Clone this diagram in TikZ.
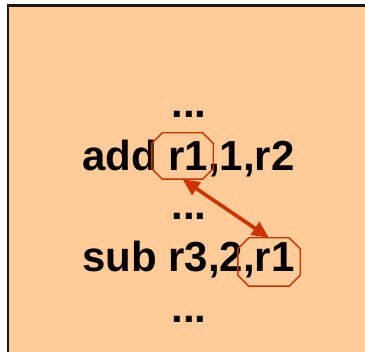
\documentclass[tikz,border=0pt]{standalone}
\usepackage{fontspec}
\setmainfont{Liberation Sans}
\usetikzlibrary{arrows.meta,calc}
\definecolor{peach}{HTML}{FFCC99}
\definecolor{rust}{HTML}{CC3300}
\tikzset{
  code/.style={anchor=base west,inner sep=0pt,font=\fontsize{42}{50}\selectfont\bfseries},
  dots/.style={anchor=base,inner sep=0pt,font=\fontsize{42}{50}\selectfont\bfseries},
  octbox/.style={rectangle,inner sep=0pt,minimum width=61pt,minimum height=46pt},
  octline/.style={draw=rust,line width=1.4pt,line join=miter},
  link/.style={rust,line width=3.6pt,{Triangle[length=17pt,width=15pt]}-{Triangle[length=17pt,width=15pt]}}
}
\newcommand{\octdraw}[2]{%
  \draw[octline] ($(#1.north west)+(#2,0)$) -- ($(#1.north east)+(-#2,0)$)
    -- ($(#1.north east)+(0,-#2)$) -- ($(#1.south east)+(0,#2)$)
    -- ($(#1.south east)+(-#2,0)$) -- ($(#1.south west)+(#2,0)$)
    -- ($(#1.south west)+(0,#2)$) -- ($(#1.north west)+(0,-#2)$) -- cycle;}
\begin{document}
\begin{tikzpicture}[x=1pt,y=1pt]
\useasboundingbox (0,0) rectangle (365,-352);
\clip (0,0) rectangle (365,-352);
\fill[white] (0,0) rectangle (365,-352);
\draw[line width=2.5pt,draw=black!90,fill=peach] (8,-5.7) rectangle (380,-370);
\node[dots] (d1) at (189,-118) {...};
\node[code] (l1) at (82,-171) {add r1,1,r2};
\node[dots] (d2) at (189,-220) {...};
\node[code] (l2) at (82,-272) {sub r3,2,r1};
\node[dots] (d3) at (189,-323) {...};
\node[octbox] (o1) at (182.5,-156) {};
\node[octbox,minimum width=62pt,minimum height=48pt] (o2) at (269,-262) {};
\octdraw{o1}{10.5}
\octdraw{o2}{11}
\draw[link] (o1.south) -- (o2.north);
\end{tikzpicture}
\end{document}
